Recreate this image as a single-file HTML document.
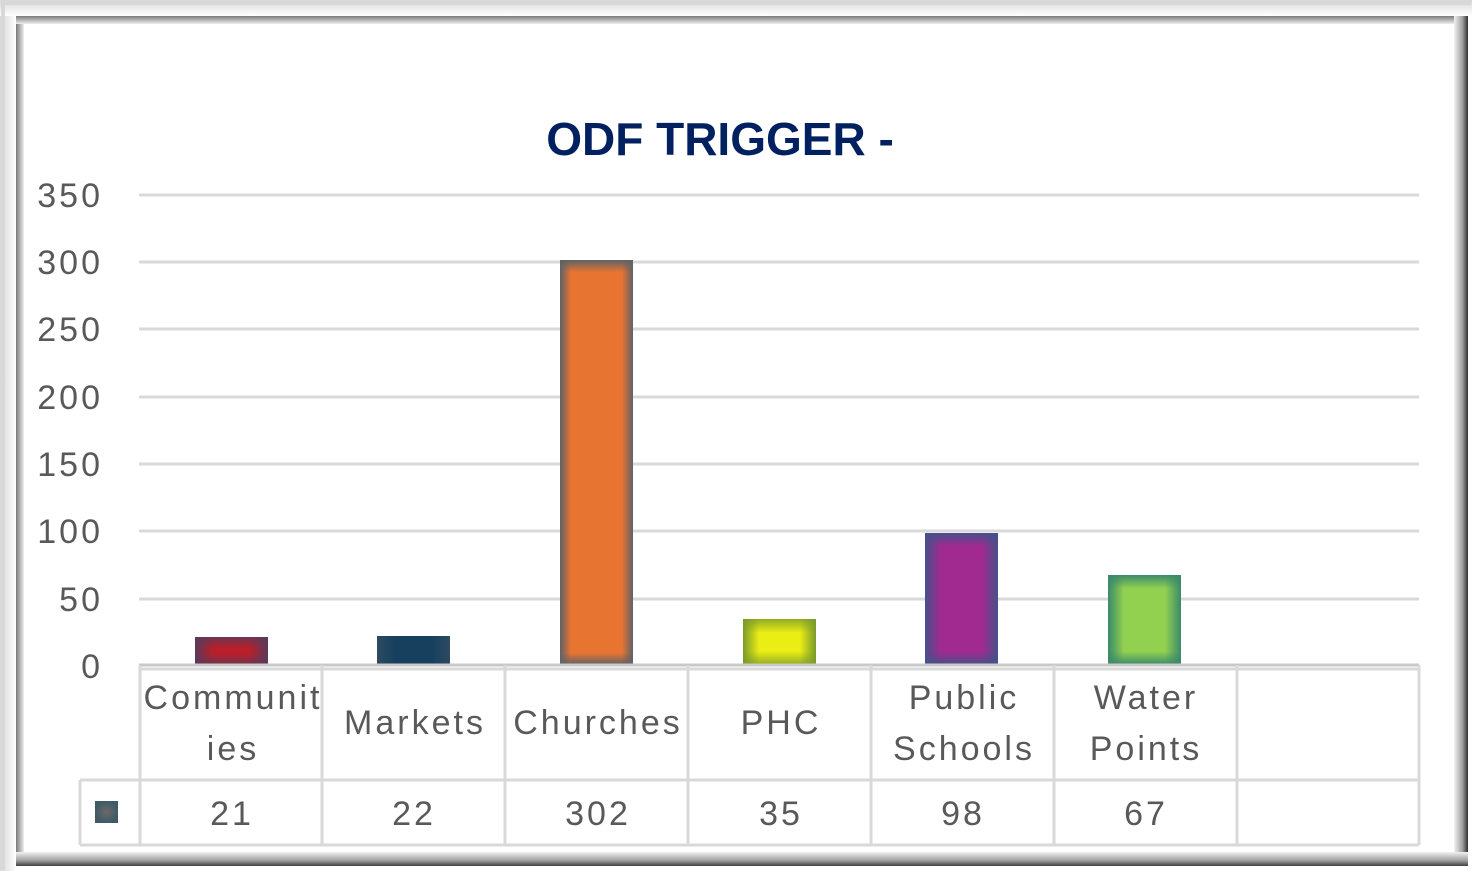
<!DOCTYPE html>
<html><head><meta charset="utf-8">
<style>
html,body{margin:0;padding:0;background:#fff;}
svg{display:block;font-family:"Liberation Sans",Arial,sans-serif;}
</style></head>
<body>
<svg width="1472" height="871" viewBox="0 0 1472 871" xmlns="http://www.w3.org/2000/svg">
<defs>
<linearGradient id="gl" x1="0" x2="1" y1="0" y2="0"><stop offset="0" stop-color="#d8d8d8"/><stop offset="0.6" stop-color="#efefef"/><stop offset="1" stop-color="#ffffff"/></linearGradient>
<linearGradient id="gt" x1="0" x2="0" y1="0" y2="1"><stop offset="0" stop-color="#d8d8d8"/><stop offset="1" stop-color="#ffffff"/></linearGradient>
<linearGradient id="di" x1="0" x2="1"><stop offset="0" stop-color="#7a7a7a"/><stop offset="1" stop-color="#eeeeee"/></linearGradient>
<linearGradient id="dit" x1="0" x2="0" y1="0" y2="1"><stop offset="0" stop-color="#7a7a7a"/><stop offset="1" stop-color="#eeeeee"/></linearGradient>
<linearGradient id="dr" x1="0" x2="1"><stop offset="0" stop-color="#f2f2f2"/><stop offset="0.6" stop-color="#a0a0a0"/><stop offset="1" stop-color="#303030"/></linearGradient>
<linearGradient id="db" x1="0" x2="0" y1="0" y2="1"><stop offset="0" stop-color="#f2f2f2"/><stop offset="0.6" stop-color="#a0a0a0"/><stop offset="1" stop-color="#404040"/></linearGradient>

<linearGradient id="h1" x1="0" x2="1"><stop offset="0" stop-color="#5a3a5a"/><stop offset="0.25" stop-color="#5a3a5a" stop-opacity="0"/><stop offset="0.75" stop-color="#5a3a5a" stop-opacity="0"/><stop offset="1" stop-color="#5a3a5a"/></linearGradient>
<linearGradient id="v1" x1="0" x2="0" y1="0" y2="1"><stop offset="0" stop-color="#5a3a5a" stop-opacity="0.8"/><stop offset="0.4" stop-color="#5a3a5a" stop-opacity="0"/><stop offset="0.6" stop-color="#5a3a5a" stop-opacity="0"/><stop offset="1" stop-color="#5a3a5a" stop-opacity="0.8"/></linearGradient>

<linearGradient id="h2" x1="0" x2="1"><stop offset="0" stop-color="#2e4a60"/><stop offset="0.25" stop-color="#2e4a60" stop-opacity="0"/><stop offset="0.75" stop-color="#2e4a60" stop-opacity="0"/><stop offset="1" stop-color="#2e4a60"/></linearGradient>

<linearGradient id="h3" x1="0" x2="1"><stop offset="0" stop-color="#5e6266"/><stop offset="0.15" stop-color="#5e6266" stop-opacity="0"/><stop offset="0.85" stop-color="#5e6266" stop-opacity="0"/><stop offset="1" stop-color="#5e6266"/></linearGradient>
<linearGradient id="v3" x1="0" x2="0" y1="0" y2="1"><stop offset="0" stop-color="#5e6266"/><stop offset="0.03" stop-color="#5e6266" stop-opacity="0"/><stop offset="0.97" stop-color="#5e6266" stop-opacity="0"/><stop offset="1" stop-color="#5e6266"/></linearGradient>

<linearGradient id="h4" x1="0" x2="1"><stop offset="0" stop-color="#7a9a2a"/><stop offset="0.22" stop-color="#7a9a2a" stop-opacity="0"/><stop offset="0.78" stop-color="#7a9a2a" stop-opacity="0"/><stop offset="1" stop-color="#7a9a2a"/></linearGradient>
<linearGradient id="v4" x1="0" x2="0" y1="0" y2="1"><stop offset="0" stop-color="#7a9a2a" stop-opacity="0.8"/><stop offset="0.3" stop-color="#7a9a2a" stop-opacity="0"/><stop offset="0.7" stop-color="#7a9a2a" stop-opacity="0"/><stop offset="1" stop-color="#7a9a2a" stop-opacity="0.8"/></linearGradient>

<linearGradient id="h5" x1="0" x2="1"><stop offset="0" stop-color="#46508a"/><stop offset="0.22" stop-color="#46508a" stop-opacity="0"/><stop offset="0.78" stop-color="#46508a" stop-opacity="0"/><stop offset="1" stop-color="#46508a"/></linearGradient>
<linearGradient id="v5" x1="0" x2="0" y1="0" y2="1"><stop offset="0" stop-color="#46508a"/><stop offset="0.1" stop-color="#46508a" stop-opacity="0"/><stop offset="0.9" stop-color="#46508a" stop-opacity="0"/><stop offset="1" stop-color="#46508a"/></linearGradient>

<linearGradient id="h6" x1="0" x2="1"><stop offset="0" stop-color="#3a8a6a"/><stop offset="0.22" stop-color="#3a8a6a" stop-opacity="0"/><stop offset="0.78" stop-color="#3a8a6a" stop-opacity="0"/><stop offset="1" stop-color="#3a8a6a"/></linearGradient>
<linearGradient id="v6" x1="0" x2="0" y1="0" y2="1"><stop offset="0" stop-color="#3a8a6a"/><stop offset="0.15" stop-color="#3a8a6a" stop-opacity="0"/><stop offset="0.85" stop-color="#3a8a6a" stop-opacity="0"/><stop offset="1" stop-color="#3a8a6a"/></linearGradient>
<radialGradient id="lg"><stop offset="0" stop-color="#6a6a6a"/><stop offset="1" stop-color="#3e5a66"/></radialGradient>
</defs>
<rect x="0" y="0" width="1472" height="871" fill="#fff"/>
<rect x="0" y="0" width="16" height="871" fill="url(#gl)"/>
<rect x="0" y="0" width="1472" height="16" fill="url(#gt)"/>
<rect x="1" y="1" width="1470" height="4" fill="#d8d8d8"/>
<rect x="1" y="1" width="4" height="869" fill="#d8d8d8"/>
<rect x="16" y="16" width="8" height="842" fill="url(#di)"/>
<rect x="16" y="16" width="1440" height="8" fill="url(#dit)"/>
<rect x="1454" y="16" width="14" height="850" fill="url(#dr)"/>
<rect x="16" y="852" width="1452" height="14" fill="url(#db)"/>
<rect x="24" y="24" width="1430" height="828" fill="#fff"/>
<text x="720" y="155" text-anchor="middle" font-size="46" font-weight="bold" fill="#002060">ODF TRIGGER -</text>
<g stroke="#d9d9d9" stroke-width="3">
<line x1="139" x2="1419" y1="195" y2="195"/>
<line x1="139" x2="1419" y1="262" y2="262"/>
<line x1="139" x2="1419" y1="329" y2="329"/>
<line x1="139" x2="1419" y1="397" y2="397"/>
<line x1="139" x2="1419" y1="464" y2="464"/>
<line x1="139" x2="1419" y1="531" y2="531"/>
<line x1="139" x2="1419" y1="599" y2="599"/>
</g>
<g font-size="34" fill="#595959" text-anchor="end" letter-spacing="3">
<text x="103" y="207">350</text>
<text x="103" y="274">300</text>
<text x="103" y="341">250</text>
<text x="103" y="409">200</text>
<text x="103" y="476">150</text>
<text x="103" y="543">100</text>
<text x="103" y="611">50</text>
<text x="103" y="678">0</text>
</g>
<rect x="195" y="637" width="73" height="28" fill="#b81f2a"/>
<rect x="195" y="637" width="73" height="28" fill="url(#h1)"/>
<rect x="195" y="637" width="73" height="28" fill="url(#v1)"/>
<rect x="377" y="636" width="73" height="29" fill="#16405e"/>
<rect x="377" y="636" width="73" height="29" fill="url(#h2)"/>
<rect x="560" y="260" width="73" height="405" fill="#e87432"/>
<rect x="560" y="260" width="73" height="405" fill="url(#h3)"/>
<rect x="560" y="260" width="73" height="405" fill="url(#v3)"/>
<rect x="743" y="619" width="73" height="46" fill="#eaee14"/>
<rect x="743" y="619" width="73" height="46" fill="url(#h4)"/>
<rect x="743" y="619" width="73" height="46" fill="url(#v4)"/>
<rect x="925" y="533" width="73" height="132" fill="#a02a90"/>
<rect x="925" y="533" width="73" height="132" fill="url(#h5)"/>
<rect x="925" y="533" width="73" height="132" fill="url(#v5)"/>
<rect x="1108" y="575" width="73" height="90" fill="#92d050"/>
<rect x="1108" y="575" width="73" height="90" fill="url(#h6)"/>
<rect x="1108" y="575" width="73" height="90" fill="url(#v6)"/>
<g stroke="#d9d9d9" stroke-width="3" fill="none">
<line x1="139" x2="1419" y1="665" y2="665" stroke="#c8c8c8"/>
<line x1="139" x2="1419" y1="669" y2="669"/>
<line x1="80" x2="1419" y1="780" y2="780"/>
<line x1="80" x2="1419" y1="845" y2="845"/>
<line x1="80" x2="80" y1="780" y2="845"/>
<line x1="140" x2="140" y1="665" y2="845"/>
<line x1="322" x2="322" y1="665" y2="845"/>
<line x1="505" x2="505" y1="665" y2="845"/>
<line x1="688" x2="688" y1="665" y2="845"/>
<line x1="871" x2="871" y1="665" y2="845"/>
<line x1="1054" x2="1054" y1="665" y2="845"/>
<line x1="1237" x2="1237" y1="665" y2="845"/>
<line x1="1419" x2="1419" y1="665" y2="845"/>
</g>
<g font-size="34" fill="#595959" text-anchor="middle" letter-spacing="3">
<text x="233" y="709">Communit</text>
<text x="233" y="760">ies</text>
<text x="415" y="734">Markets</text>
<text x="598" y="734">Churches</text>
<text x="781" y="734">PHC</text>
<text x="964" y="709">Public</text>
<text x="964" y="760">Schools</text>
<text x="1146" y="709">Water</text>
<text x="1146" y="760">Points</text>
<text x="232" y="825">21</text>
<text x="414" y="825">22</text>
<text x="598" y="825">302</text>
<text x="781" y="825">35</text>
<text x="963" y="825">98</text>
<text x="1146" y="825">67</text>
</g>
<rect x="95" y="801" width="23" height="22" fill="url(#lg)"/>
</svg>
</body></html>
